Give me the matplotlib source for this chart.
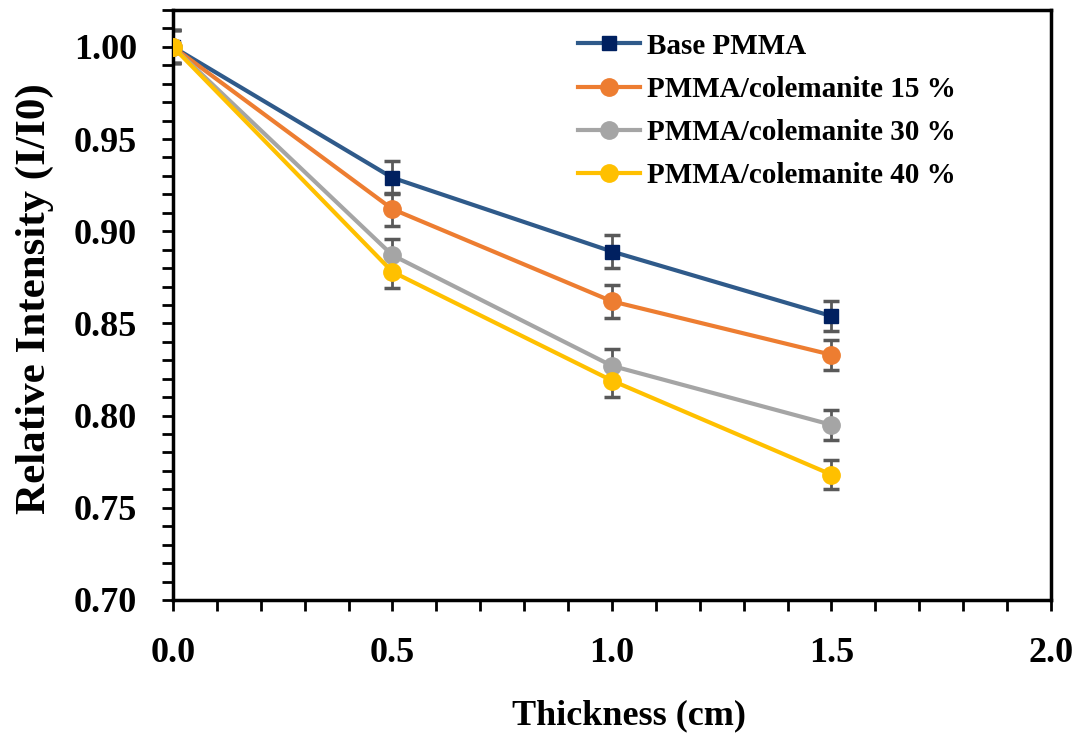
import matplotlib.pyplot as plt
from matplotlib.ticker import MultipleLocator, FormatStrFormatter

plt.rcParams['font.family'] = ['Liberation Serif', 'DejaVu Serif']
plt.rcParams['font.weight'] = 'bold'

# data
thickness = [0.0, 0.5, 1.0, 1.5]
base_pmma = [1.000, 0.929, 0.889, 0.854]
col_15 = [1.000, 0.912, 0.862, 0.833]
col_30 = [1.000, 0.887, 0.827, 0.795]
col_40 = [1.000, 0.878, 0.819, 0.768]
err = [0.009, 0.009, 0.009, 0.008]

labels = ["Base PMMA", "PMMA/colemanite 15 %", "PMMA/colemanite 30 %", "PMMA/colemanite 40 %"]

fig = plt.figure(figsize=(10.85, 7.4), dpi=100)
ax = fig.add_axes([0.1594, 0.1892, 0.8092, 0.7973])

series = [
    (base_pmma, '#2F5A8A', '#002060', 's', 10),
    (col_15, '#ED7D31', '#ED7D31', 'o', 12.5),
    (col_30, '#A5A5A5', '#A5A5A5', 'o', 12.5),
    (col_40, '#FFC000', '#FFC000', 'o', 12.5),
]

for (vals, lc, mc, mk, ms), lab in zip(series, labels):
    ax.errorbar(thickness, vals, yerr=err, fmt='none', ecolor='#595959',
                elinewidth=2, capsize=5.5, capthick=2.5, zorder=2)
    ax.plot(thickness, vals, color=lc, lw=3, marker=mk, ms=ms,
            mfc=mc, mec=mc, label=lab, zorder=3)

ax.set_xlim(0, 2.0)
ax.set_ylim(0.70, 1.02)
ax.xaxis.set_major_locator(MultipleLocator(0.5))
ax.xaxis.set_minor_locator(MultipleLocator(0.1))
ax.yaxis.set_minor_locator(MultipleLocator(0.01))
ax.xaxis.set_major_formatter(FormatStrFormatter('%.1f'))
ax.yaxis.set_major_formatter(FormatStrFormatter('%.2f'))
ax.set_yticks([0.70, 0.75, 0.80, 0.85, 0.90, 0.95, 1.00])

ax.tick_params(which='both', direction='out', width=2, length=8, labelsize=26)
ax.tick_params(axis='x', pad=19)
ax.tick_params(axis='y', pad=18)
for s in ax.spines.values():
    s.set_linewidth(2.5)

ax.set_xlabel("Thickness (cm)", fontsize=26, fontweight='bold')
ax.set_ylabel("Relative Intensity (I/I0)", fontsize=31, fontweight='bold')
ax.xaxis.set_label_coords(0.52, -0.168)
ax.yaxis.set_label_coords(-0.136, 0.511)

ax.legend(loc='upper left', bbox_to_anchor=(0.432, 1.006), frameon=False,
          prop={'size': 21, 'weight': 'bold'}, handlelength=2.1,
          handletextpad=0.25, labelspacing=0.55)

fig.savefig("out.png", dpi=100)
